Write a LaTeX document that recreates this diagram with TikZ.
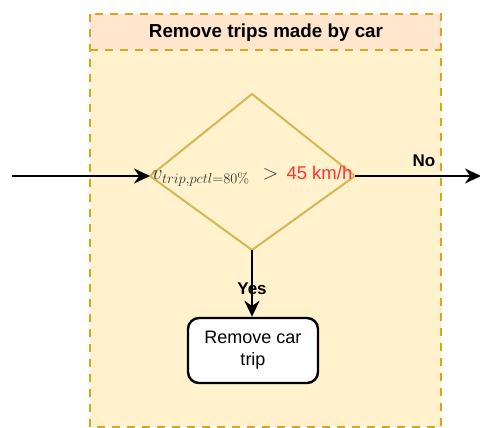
\documentclass[tikz,border=0pt]{standalone}
\usepackage[no-math]{fontspec}
\setmainfont{Liberation Sans}
\usetikzlibrary{arrows.meta}
\definecolor{poolfill}{HTML}{FFF2CC}
\definecolor{headfill}{HTML}{FFE6CC}
\definecolor{pooledge}{HTML}{DBA41A}
\definecolor{decedge}{HTML}{D6B656}
\definecolor{hotred}{HTML}{FF3333}
\tikzset{
  pool/.style={draw=pooledge, line width=2.4pt, dash pattern=on 8pt off 7pt},
  flow/.style={draw=black, line width=2.4pt, -{Stealth[length=16pt,width=15pt]}},
  decision/.style={draw=decedge, fill=poolfill, line width=2pt},
  stepbox/.style={draw=black, fill=white, line width=2.4pt, rounded corners=11pt,
    minimum width=130pt, minimum height=65pt, align=center, font=\fontsize{18}{22}\selectfont},
  lbl/.style={font=\bfseries\fontsize{17}{19}\selectfont, inner sep=1pt}
}
\begin{document}
\begin{tikzpicture}[x=1pt,y=-1pt]
\useasboundingbox (0,0) rectangle (480,428);
% swimlane container with header band
\fill[poolfill] (90,14) rectangle (441,427);
\fill[headfill] (90,14) rectangle (441,50);
\draw[pool] (90,14) rectangle (441,427);
\draw[pool] (90,50) -- (441,50);
\node[font=\bfseries\fontsize{18.8}{20}\selectfont] (title) at (266,32.5) {Remove trips made by car};
% decision diamond
\coordinate (dt) at (252,94);
\coordinate (db) at (252,250);
\coordinate (dl) at (150,176);
\coordinate (dr) at (355,176);
\draw[decision] (dt) -- (dr) -- (db) -- (dl) -- cycle;
\node[anchor=west, inner sep=0pt, text=black!80] (cond) at (152,176)
  {\fontsize{20}{22}\selectfont$v_{trip,pctl=80\%}$\hspace{13pt}{\fontsize{22}{22}\selectfont$>$}\hspace{8pt}\textcolor{hotred}{\fontsize{18.5}{22}\selectfont 45 km/h}};
% action box
\node[stepbox] (rm) at (253,350.5) {Remove car\\trip};
% connectors
\coordinate (src) at (12,176);
\coordinate (out) at (481,176);
\draw[flow] (src) -- (dl);
\draw[flow] (dr) -- (out);
\draw[flow] (db) -- (rm.north -| db);
\node[lbl] (no) at (424,161) {No};
\node[lbl] (yes) at (252,289) {Yes};
\end{tikzpicture}
\end{document}
